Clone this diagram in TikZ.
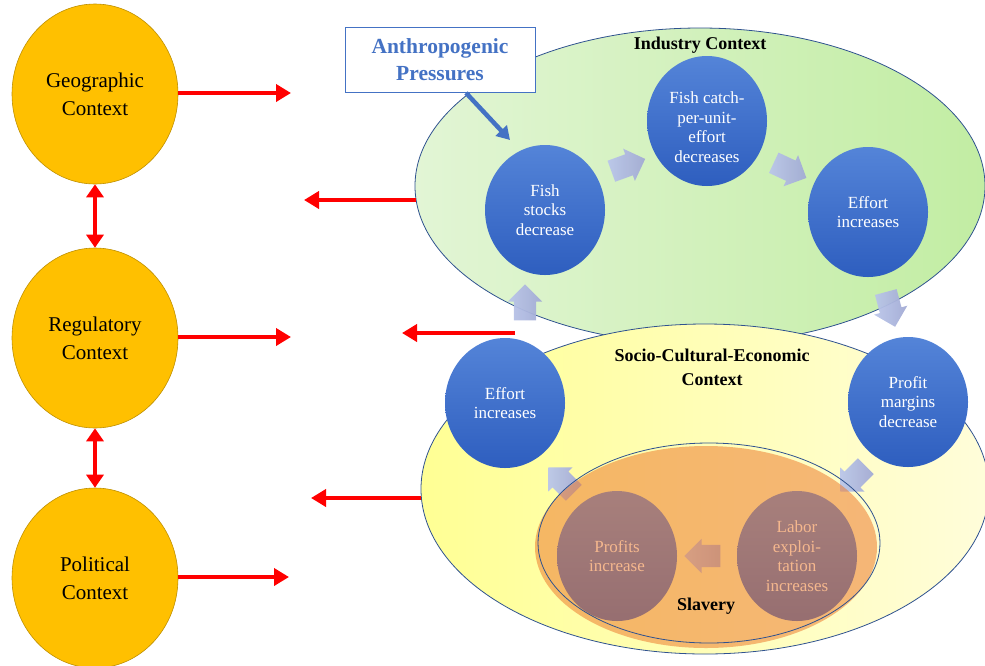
\documentclass[tikz,border=0pt]{standalone}
\usepackage{fontspec}
\setmainfont{Liberation Serif}
\usetikzlibrary{shapes.geometric,shapes.arrows,arrows.meta}
\definecolor{ctxgold}{HTML}{FFC000}
\definecolor{ctxedge}{HTML}{BF9000}
\definecolor{frame}{HTML}{2F528F}
\definecolor{accent}{HTML}{4472C4}
\definecolor{greenL}{HTML}{E2F5D5}
\definecolor{greenR}{HTML}{C2EDA3}
\definecolor{yelL}{HTML}{FFFF94}
\definecolor{yelR}{HTML}{FFFDDA}
\definecolor{stepT}{HTML}{5484D8}
\definecolor{stepB}{HTML}{2E5EBF}
\definecolor{chevA}{HTML}{BAC6EA}
\definecolor{chevB}{HTML}{A2AAD4}
\definecolor{slave}{HTML}{ED7D31}
\newcommand{\shaftgauge}{\rule{0pt}{22pt}}
\begin{document}
\begin{tikzpicture}[x=1pt,y=-1pt,
  ctx/.style={ellipse, draw=ctxedge, line width=0.6pt, fill=ctxgold,
    minimum width=166pt, minimum height=180pt, inner sep=0pt, align=center,
    font=\fontsize{21}{28}\selectfont},
  redarrow/.style={red, line width=4.5pt, -{Triangle[length=15pt,width=17pt]}},
  reddouble/.style={red, line width=4.5pt,
    {Triangle[length=13pt,width=17pt]}-{Triangle[length=13pt,width=17pt]}},
  steptext/.style={text=white, align=center, font=\fontsize{17}{19.5}\selectfont},
  stepnode/.style={ellipse, top color=stepT, bottom color=stepB,
    minimum width=120pt, minimum height=130pt, inner sep=0pt, steptext},
  chev/.style={single arrow, left color=chevA, right color=chevB,
    minimum height=36pt, single arrow head extend=6pt,
    inner sep=0pt, fill opacity=0.95},
  region/.style={ellipse, draw=frame, line width=0.8pt, inner sep=0pt},
  heading/.style={font=\bfseries\fontsize{18}{24}\selectfont, align=center},
  pressure/.style={accent, line width=4.5pt, -{Triangle[length=13pt,width=15pt]}}
]
\useasboundingbox (0,0) rectangle (985,665);
\clip (0,0) rectangle (985,665);

% context regions on the right
\node[region, left color=greenL, right color=greenR,
  minimum width=570pt, minimum height=316pt] (industry) at (700,186) {};
\node[region, left color=yelL, right color=yelR,
  minimum width=568pt, minimum height=330pt] (socio) at (705,489) {};
\node[heading] (indlabel) at (700,45) {Industry Context};
\node[heading] (soclabel) at (712,367) {Socio-Cultural-Economic\\Context};

% cycle steps
\node[stepnode] (stocks) at (545,210) {Fish\\stocks\\decrease};
\node[stepnode] (catch) at (707,121) {};
\node[steptext] (catchtext) at ([yshift=-6pt]catch.center)
  {Fish catch-\\per-unit-\\effort\\decreases};
\node[stepnode] (effortA) at (868,212) {Effort\\increases};
\node[stepnode] (margins) at (908,402) {Profit\\margins\\decrease};
\node[stepnode] (effortB) at (505,403) {Effort\\increases};
\node[stepnode] (labor) at (797,556) {Labor\\exploi-\\tation\\increases};
\node[stepnode] (profits) at (617,556) {Profits\\increase};

% block arrows between steps
\node[chev, rotate=20] (c1) at (623,167) {\shaftgauge};
\node[chev, rotate=-25] (c2) at (785,168) {\shaftgauge};
\node[chev, rotate=-75] (c3) at (889,304) {\shaftgauge};
\node[chev, rotate=-135] (c4) at (857,475) {\shaftgauge};
\node[chev, rotate=180] (c5) at (708,556) {\shaftgauge};
\node[chev, rotate=135] (c6) at (565,484) {\shaftgauge};
\node[chev, rotate=90] (c7) at (525,308) {\shaftgauge};

% slavery overlay: translucent fill slightly offset from its outline
\node[ellipse, fill=slave, fill opacity=0.55, inner sep=0pt,
  minimum width=342pt, minimum height=202pt] (slavfill) at (706,547) {};
\node[region, minimum width=342pt, minimum height=200pt] (slavery) at (709,543) {};
\node[font=\bfseries\fontsize{18}{20}\selectfont] (slavlabel) at (706,606) {Slavery};

% anthropogenic pressures
\node[draw=accent, line width=0.8pt, fill=white, text=accent,
  minimum width=190pt, minimum height=65pt, align=center,
  font=\bfseries\fontsize{21.5}{27}\selectfont] (anthro) at (440,60)
  {Anthropogenic\\Pressures};
\coordinate (hit) at (510,140);
\draw[pressure] ([xshift=26pt]anthro.south) -- (hit);

% left context circles
\node[ctx] (geo) at (95,94) {Geographic\\Context};
\node[ctx] (reg) at (95,338) {Regulatory\\Context};
\node[ctx] (pol) at (95,578) {Political\\Context};

\draw[reddouble] (geo.south) -- (reg.north);
\draw[reddouble] (reg.south) -- (pol.north);

\coordinate (geoTip) at (291,93);
\coordinate (regTip) at (291,337);
\coordinate (polTip) at (289,577);
\draw[redarrow] (geo.east |- geoTip) -- (geoTip);
\draw[redarrow] (reg.east |- regTip) -- (regTip);
\draw[redarrow] (pol.east |- polTip) -- (polTip);

% feedback arrows from the right-hand contexts
\coordinate (indOut) at (416,200);
\coordinate (indTip) at (304,200);
\coordinate (stepOut) at (515,333);
\coordinate (stepTip) at (402,333);
\coordinate (socOut) at (421,498);
\coordinate (socTip) at (311,498);
\draw[redarrow] (indOut) -- (indTip);
\draw[redarrow] (stepOut) -- (stepTip);
\draw[redarrow] (socOut) -- (socTip);
\end{tikzpicture}
\end{document}
